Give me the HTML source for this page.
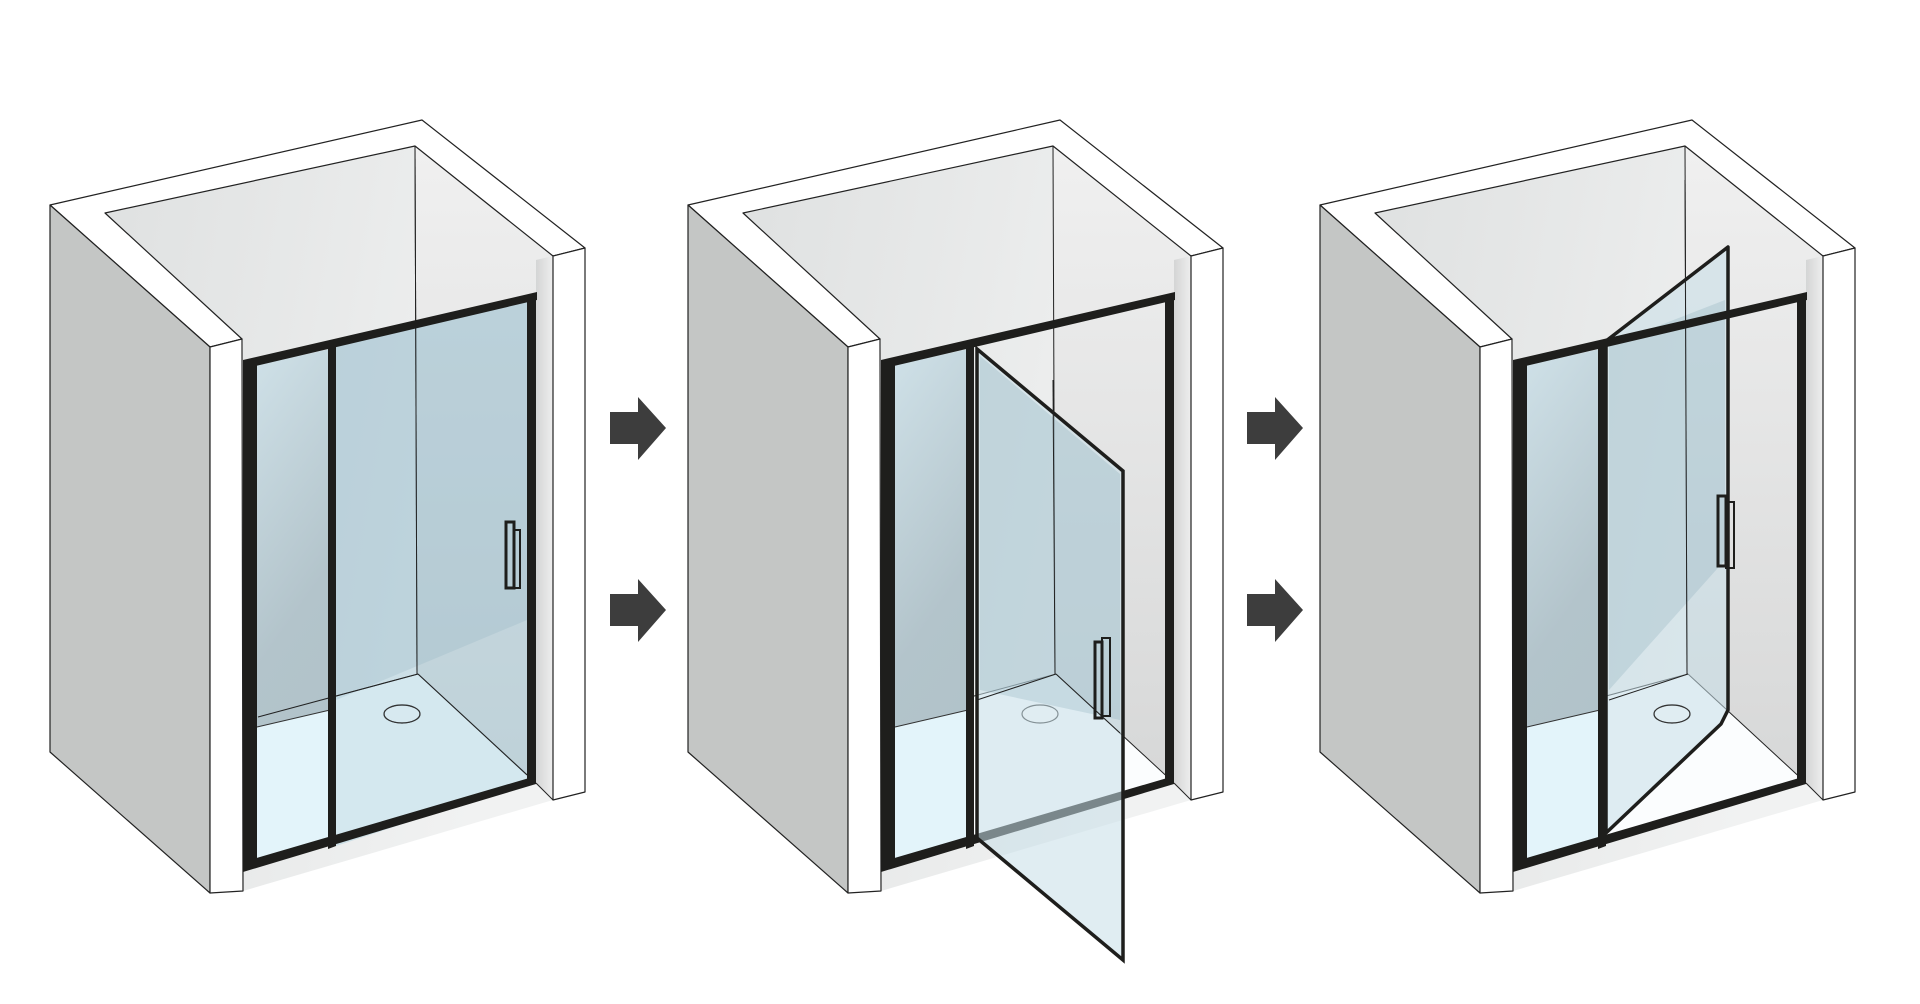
<!DOCTYPE html>
<html><head><meta charset="utf-8"><style>
html,body{margin:0;padding:0;background:#fff;}
svg{display:block;}
</style></head><body>
<svg width="1920" height="1004" viewBox="0 0 1920 1004" xmlns="http://www.w3.org/2000/svg">
<defs>
<linearGradient id="ceil" x1="0" y1="0" x2="1" y2="0.3">
<stop offset="0" stop-color="#dfe1e1"/><stop offset="1" stop-color="#f1f2f2"/></linearGradient>
<linearGradient id="rw" x1="0" y1="0" x2="0" y2="1">
<stop offset="0" stop-color="#f0f0f0"/><stop offset="1" stop-color="#d6d7d7"/></linearGradient>
<linearGradient id="side" x1="0" y1="0" x2="1" y2="0">
<stop offset="0" stop-color="#d4d5d5"/><stop offset="1" stop-color="#eeeeee"/></linearGradient>
<linearGradient id="glass" x1="0" y1="0" x2="0.2" y2="1">
<stop offset="0" stop-color="#cfe1e8"/><stop offset="0.6" stop-color="#b3c4cb"/><stop offset="1" stop-color="#b0c2c9"/></linearGradient>

<g id="base" stroke="#222" stroke-width="1.2" stroke-linejoin="round">
  <polygon points="105,213 415,146 553,256 553,800 243,891 243,340" fill="url(#ceil)" stroke="none"/>
  <polygon points="415,146 553,256 553,800 417,674" fill="url(#rw)" stroke="none"/>
  <line x1="415" y1="146" x2="417" y2="674" stroke-width="1"/>
  <polygon points="258,717 418,674 536,783 245,866" fill="#fbfdfe" stroke="none"/>
  <line x1="258" y1="717" x2="418" y2="674" stroke-width="1"/>
  <line x1="418" y1="674" x2="536" y2="783" stroke-width="1"/>
  <polygon points="536,260 553,256 553,800 536,783" fill="url(#side)" stroke="none"/>
  <line x1="536" y1="783" x2="553" y2="800" stroke-width="1"/>
  <polygon points="50,205 422,120 585,248 553,256 415,146 105,213 242,339 210,347" fill="#fff"/>
  <polygon points="50,205 210,347 210,893 50,752" fill="#c4c6c5"/>
  <polygon points="210,347 242,339 243,891 210,893" fill="#fff"/>
  <polygon points="553,256 585,248 585,792 553,800" fill="#fff"/>
</g>

<g id="leftpanel">
  <polygon points="257,365 330,349 330,845 257,862" fill="url(#glass)"/>
  <polygon points="257,727 330,710 330,845 257,862" fill="#e3f4fa"/>
  <line x1="257" y1="727" x2="330" y2="710" stroke="#333" stroke-width="1"/>
</g>

<g id="frame" fill="#1e1e1c" stroke="none">
  <polygon points="243,360 537,292 537,300 243,369"/>
  <polygon points="243,364 257,362 257,866 243,870"/>
  <polygon points="527,296 536,294 536,783 527,785"/>
  <polygon points="243,862 536,776 536,784 243,872"/>
  <polygon points="328,348 336,346 336,846 328,849"/>
</g>
</defs>

<g fill="#3d3d3d">
  <polygon points="610,412 638,412 638,397 666,428 638,460 638,444 610,444"/>
  <polygon points="610,594 638,594 638,579 666,610 638,642 638,626 610,626"/>
  <polygon points="1247,412 1275,412 1275,397 1303,428 1275,460 1275,444 1247,444"/>
  <polygon points="1247,594 1275,594 1275,579 1303,610 1275,642 1275,626 1247,626"/>
</g>

<g>
  <use href="#base"/>
  <ellipse cx="402" cy="714" rx="18" ry="9" fill="#fff" stroke="#333" stroke-width="1.2"/>
  <use href="#leftpanel"/>
  <polygon points="336,346 527,297 527,783 336,846" fill="#9cc8da" fill-opacity="0.4"/>
  <polygon points="336,346 527,297 527,620 336,700" fill="#8fb0be" fill-opacity="0.25"/>
  <line x1="415" y1="146" x2="417" y2="674" stroke="#222" stroke-width="1"/>
  <line x1="258" y1="717" x2="418" y2="674" stroke="#222" stroke-width="1"/>
  <line x1="418" y1="674" x2="527" y2="775" stroke="#222" stroke-width="1"/>
  <ellipse cx="402" cy="714" rx="18" ry="9" fill="none" stroke="#333" stroke-width="1.2"/>
  <use href="#frame"/>
  <rect x="506" y="522" width="8" height="66" fill="none" stroke="#1e1e1c" stroke-width="3"/>
  <rect x="514" y="530" width="6" height="58" fill="none" stroke="#1e1e1c" stroke-width="2"/>
</g>

<g transform="translate(638,0)">
  <use href="#base"/>
  <ellipse cx="402" cy="714" rx="18" ry="9" fill="#fff" stroke="#333" stroke-width="1.2"/>
  <use href="#leftpanel"/>
  <use href="#frame"/>
  <polygon points="339,349 485,471 485,960 339,838" fill="#c6dfe8" fill-opacity="0.55" stroke="#1e1e1c" stroke-width="3.5" stroke-linejoin="miter"/>
  <polygon points="342,356 482,474 482,720 342,690" fill="#8fb0be" fill-opacity="0.3"/>
  <line x1="415" y1="380" x2="417" y2="674" stroke="#222" stroke-width="1"/>
  <line x1="339" y1="700" x2="418" y2="674" stroke="#222" stroke-width="1"/>
  <line x1="418" y1="674" x2="482" y2="733" stroke="#222" stroke-width="1"/>
  <rect x="457" y="642" width="7" height="76" fill="none" stroke="#1e1e1c" stroke-width="3"/>
  <rect x="464" y="638" width="8" height="78" fill="none" stroke="#1e1e1c" stroke-width="2"/>
</g>

<g transform="translate(1270,0)">
  <use href="#base"/>
  <ellipse cx="402" cy="714" rx="18" ry="9" fill="#fff" stroke="#333" stroke-width="1.2"/>
  <use href="#leftpanel"/>
  <polygon points="336,341 458,247 458,710 451,724 336,833" fill="#c6dfe8" fill-opacity="0.55" stroke="#1e1e1c" stroke-width="3.5" stroke-linejoin="round"/>
  <polygon points="339,345 455,300 455,560 339,690" fill="#8fb0be" fill-opacity="0.3"/>
  <line x1="415" y1="180" x2="417" y2="674" stroke="#222" stroke-width="1"/>
  <line x1="339" y1="700" x2="418" y2="674" stroke="#222" stroke-width="1"/>
  <ellipse cx="402" cy="714" rx="18" ry="9" fill="none" stroke="#333" stroke-width="1.2"/>
  <use href="#frame"/>
  <rect x="448" y="496" width="8" height="70" fill="none" stroke="#1e1e1c" stroke-width="3"/>
  <rect x="456" y="502" width="8" height="66" fill="none" stroke="#1e1e1c" stroke-width="2"/>
</g>
</svg>
</body></html>
